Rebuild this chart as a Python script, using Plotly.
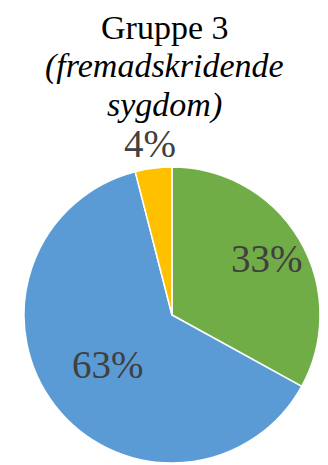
import math
import plotly.graph_objects as go

# Disease-course distribution for group 3
categories = ["Stabil", "Fremadskridende", "Usikker"]
shares = [33, 63, 4]
slice_colors = ["#70AD47", "#5B9BD5", "#FFC000"]
# radial placement of each percentage label, as a fraction of the radius
label_radius = [0.745, 0.55, 1.17]

title_lines = ["Gruppe 3", "<i>(fremadskridende</i>", "<i>sygdom)</i>"]

W, H = 328, 465
serif = "Liberation Serif"

# pie box in pixels (left, top, right, bottom)
pl, pt, pr, pb = 24, 167, 320, 463

fig = go.Figure(
    go.Pie(
        labels=categories,
        values=shares,
        sort=False,
        direction="clockwise",
        rotation=0,
        marker=dict(colors=slice_colors, line=dict(color="white", width=1.5)),
        textinfo="none",
        showlegend=False,
        hoverinfo="skip",
        domain=dict(x=[pl / W, pr / W], y=[1 - pb / H, 1 - pt / H]),
    )
)

# percentage labels at each slice's mid angle (clockwise from 12 o'clock)
cx, cy, r = (pl + pr) / 2, (pt + pb) / 2, (pr - pl) / 2
total = sum(shares)
start = 0.0
for v, f in zip(shares, label_radius):
    mid = 2 * math.pi * (start + v / 2) / total
    start += v
    px = cx + f * r * math.sin(mid)
    py = cy - f * r * math.cos(mid)
    fig.add_annotation(
        text=f"{v}%",
        x=px / W, xref="paper", xanchor="center",
        y=1 - py / H, yref="paper", yanchor="middle",
        showarrow=False,
        font=dict(family=serif, size=39, color="#404040"),
    )

# Three-line title, each line placed by its baseline
baselines = [40, 79, 118]
for line, base in zip(title_lines, baselines):
    fig.add_annotation(
        text=line,
        x=0.5, xref="paper", xanchor="center",
        y=1 - (base + 8) / H, yref="paper", yanchor="bottom",
        showarrow=False,
        font=dict(family=serif, size=34, color="#000000"),
    )

fig.update_layout(
    width=W,
    height=H,
    margin=dict(l=0, r=0, t=0, b=0),
    paper_bgcolor="white",
    plot_bgcolor="white",
)

fig.write_html("out.html")
